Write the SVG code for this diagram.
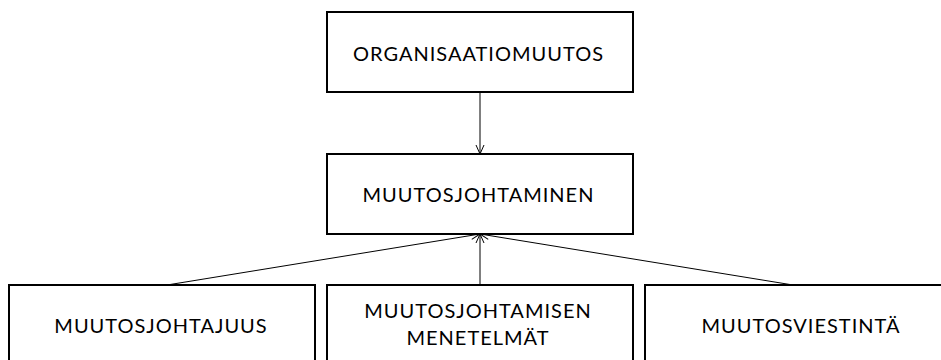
<svg xmlns="http://www.w3.org/2000/svg" width="941" height="360" viewBox="0 0 941 360">
<style>
.box{fill:#fff;stroke:#000;stroke-width:2}
.lbl{font-family:Lato,"Open Sans","Liberation Sans",sans-serif;font-size:20px;letter-spacing:1px;fill:#000;text-anchor:middle}
.con{stroke:#000;stroke-width:1;fill:none;marker-end:url(#arr)}
</style>
<defs>
<marker id="arr" markerUnits="userSpaceOnUse" viewBox="0 0 10 10" refX="10" refY="5" markerWidth="10" markerHeight="10" orient="auto">
<path d="M1,1 L10,5 L1,9" fill="none" stroke="#000" stroke-width="1"/>
</marker>
</defs>
<g id="connectors">
<line class="con" x1="480" y1="92" x2="480" y2="154"/>
<line class="con" x1="167" y1="285" x2="480" y2="234"/>
<line class="con" x1="480" y1="285" x2="480" y2="234"/>
<line class="con" x1="793" y1="285" x2="480" y2="234"/>
</g>
<g id="organisaatiomuutos">
<rect class="box" x="327" y="12" width="306" height="80"/>
<text class="lbl" x="478.5" y="60.5">ORGANISAATIOMUUTOS</text>
</g>
<g id="muutosjohtaminen">
<rect class="box" x="327" y="154" width="306" height="80"/>
<text class="lbl" x="478.5" y="202">MUUTOSJOHTAMINEN</text>
</g>
<g id="muutosjohtajuus">
<rect class="box" x="9" y="285" width="306" height="90"/>
<text class="lbl" x="161" y="333">MUUTOSJOHTAJUUS</text>
</g>
<g id="muutosjohtamisen-menetelmat">
<rect class="box" x="327" y="285" width="306" height="90"/>
<text class="lbl" x="478" y="318">MUUTOSJOHTAMISEN</text>
<text class="lbl" x="478" y="345">MENETELMÄT</text>
</g>
<g id="muutosviestinta">
<rect class="box" x="645" y="285" width="306" height="90"/>
<text class="lbl" x="801" y="333">MUUTOSVIESTINTÄ</text>
</g>
</svg>
